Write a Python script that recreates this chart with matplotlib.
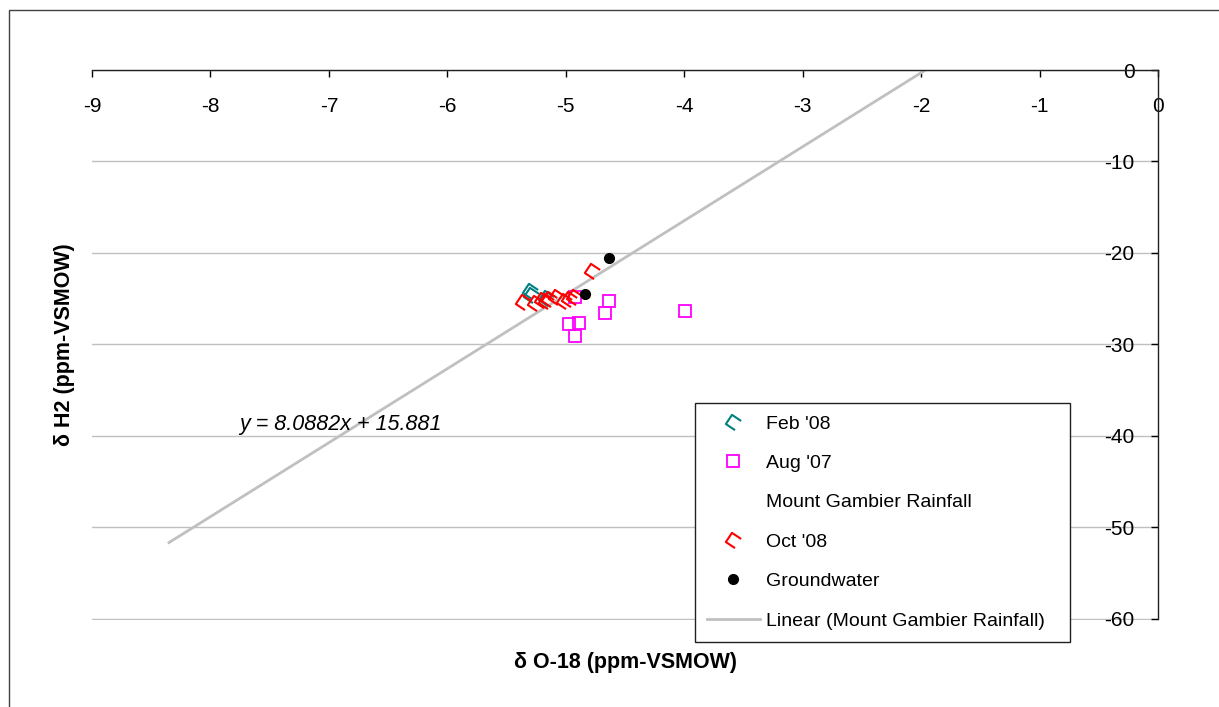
import numpy as np
import matplotlib.pyplot as plt
from matplotlib.path import Path
from matplotlib.patches import Rectangle

plt.rcParams['font.family'] = ['Liberation Sans', 'DejaVu Sans']
plt.rcParams['axes.unicode_minus'] = False

# data (delta O-18, delta H2)
feb08_x = [-5.30, -5.29, -5.17]
feb08_y = [-24.2, -24.6, -24.9]

aug07_x = [-4.92, -4.635, -4.67, -3.99, -4.97, -4.885, -4.92]
aug07_y = [-24.8, -25.2, -26.6, -26.3, -27.8, -27.7, -29.1]

oct08_x = [-4.78, -5.36, -5.26, -5.20, -5.17, -5.14, -5.08, -5.015, -4.97, -4.93]
oct08_y = [-22.0, -25.4, -25.5, -25.1, -25.3, -25.0, -24.8, -25.2, -25.0, -24.8]

gw_x = [-4.635, -4.84]
gw_y = [-20.6, -24.5]

# Mount Gambier rainfall trendline
slope = 8.0882
intercept = 15.881
trend_start = -8.35

xticks = list(range(-9, 1))
yticks = list(range(-60, 1, 10))

# open rotated square marker (one side missing)
open_diamond = Path([(0.2, -1), (-1, -0.2), (-0.2, 1), (1, 0.2)],
                    [Path.MOVETO, Path.LINETO, Path.LINETO, Path.LINETO])

fig = plt.figure(figsize=(12.19, 7.07), dpi=100)
ax = fig.add_axes([92 / 1219, 1 - 620 / 707, 1066 / 1219, 550 / 707])

# outer chart border (only left and top visible in the crop)
fig.patches.append(Rectangle((9 / 1219, -0.1), 1.2, 1.1 - 10 / 707,
                             transform=fig.transFigure, fill=False,
                             edgecolor='#404040', linewidth=1.0))

tx = np.array([trend_start, -intercept / slope])
ax.plot(tx, slope * tx + intercept, color='#c0c0c0', lw=2, zorder=2)

ax.plot(feb08_x, feb08_y, ls='none', marker=open_diamond, ms=11, mfc='none',
        mec='#008080', mew=1.5, label="Feb '08", zorder=3)
ax.plot(aug07_x, aug07_y, ls='none', marker='s', ms=8.5, mfc='none',
        mec='#ff00ff', mew=1.3, label="Aug '07", zorder=3)
ax.plot([], [], ls='none', label='Mount Gambier Rainfall')
ax.plot(oct08_x, oct08_y, ls='none', marker=open_diamond, ms=11, mfc='none',
        mec='#ff0000', mew=1.5, label="Oct '08", zorder=3)
ax.plot(gw_x, gw_y, ls='none', marker='o', ms=7, color='black',
        label='Groundwater', zorder=4)
ax.plot([], [], color='#c0c0c0', lw=2, label='Linear (Mount Gambier Rainfall)')

ax.text(-6.90, -38.8, 'y = 8.0882x + 15.881', fontsize=15.5, style='italic',
        ha='center', va='center')

ax.set_xlim(-9, 0)
ax.set_ylim(-60.12, 0)
ax.set_xticks(xticks)
ax.set_yticks(yticks)
ax.grid(axis='y', color='#c0c0c0', lw=1)
ax.set_axisbelow(True)

for s in ['top', 'right']:
    ax.spines[s].set_visible(False)
ax.spines['bottom'].set_position(('data', 0))
ax.spines['left'].set_position(('data', 0))
ax.spines['left'].set_bounds(-60, 0)
for s in ['bottom', 'left']:
    ax.spines[s].set_color('#202020')
    ax.spines[s].set_linewidth(1)

ax.tick_params(axis='x', direction='out', length=5, width=1, pad=14.5, labelsize=15)
ax.tick_params(axis='y', direction='out', length=5, width=1, pad=12, labelsize=15)

ax.set_xlabel('δ O-18 (ppm-VSMOW)', fontsize=15.5, fontweight='bold')
ax.xaxis.set_label_coords(0.5, -0.058)
ax.set_ylabel('δ H2 (ppm-VSMOW)', fontsize=15.5, fontweight='bold')
ax.yaxis.set_label_coords(-0.016, 0.5)

leg = ax.legend(loc='upper left', bbox_to_anchor=(0.5657, 0.3945, 0.3517, 0),
                mode='expand', fontsize=14,
                frameon=True, fancybox=False, framealpha=1, edgecolor='#202020',
                labelspacing=1.12, handlelength=2.7, handletextpad=0.35,
                borderpad=0.62, borderaxespad=0)
leg.get_frame().set_linewidth(1)

fig.savefig('out.png', dpi=100)
